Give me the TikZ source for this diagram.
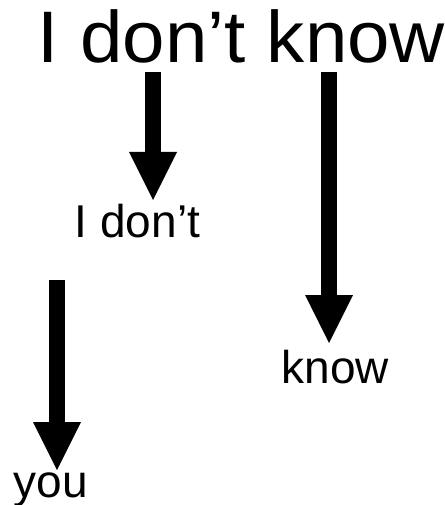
\documentclass[tikz,border=0pt]{standalone}
\usepackage{fontspec}
\setmainfont{Liberation Sans}
\usetikzlibrary{arrows.meta}
\begin{document}
\begin{tikzpicture}[x=1pt,y=-1pt,
  bigtext/.style={inner sep=0pt,anchor=base,font=\fontsize{73}{80}\selectfont},
  smalltext/.style={inner sep=0pt,anchor=base,font=\fontsize{46}{50}\selectfont},
  fatarrow/.style={line width=16pt,-{Triangle[width=48pt,length=48pt,line width=0pt]}}]
\useasboundingbox (0,0) rectangle (444,505);
\node[bigtext] (title) at (241.5,63) {\scalebox{1.045}[1]{I don’t know}};
\node[smalltext] (idont) at (137.5,237) {I don’t};
\node[smalltext] (know) at (335.5,383) {know};
\node[smalltext] (you) at (51,497) {you};
\coordinate (s1) at (153,72);
\coordinate (e1) at (153,200);
\coordinate (s2) at (329,72);
\coordinate (e2) at (329,343);
\coordinate (s3) at (57,280);
\coordinate (e3) at (57,470);
\draw[fatarrow] (s1) -- (e1);
\draw[fatarrow] (s2) -- (e2);
\draw[fatarrow] (s3) -- (e3);
\end{tikzpicture}
\end{document}
